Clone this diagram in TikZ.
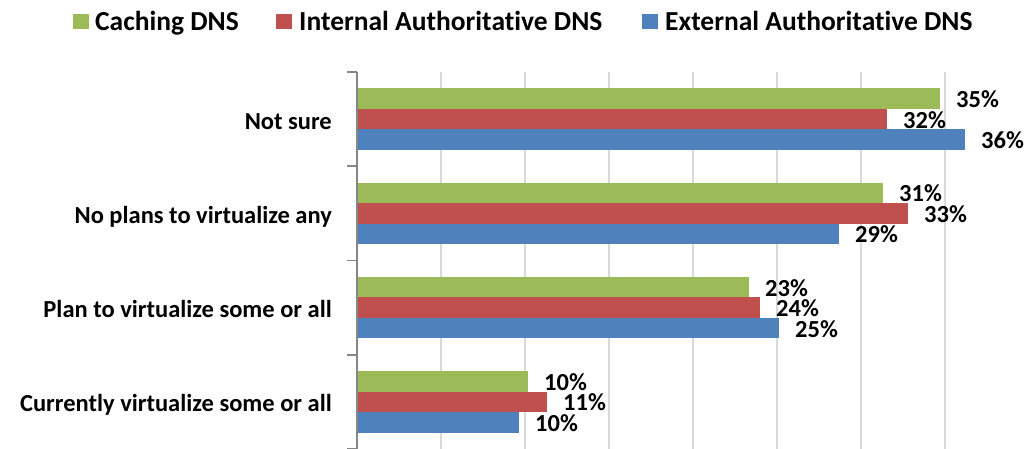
\documentclass[tikz,border=0pt]{standalone}
\usepackage{fontspec}
\setmainfont{Carlito}[Ligatures=NoCommon]
\definecolor{cgreen}{HTML}{9BBB59}
\definecolor{cred}{HTML}{C0504D}
\definecolor{cblue}{HTML}{4F81BD}
\definecolor{gridc}{HTML}{D9D9D9}
\definecolor{axisc}{HTML}{868686}
\begin{document}
\begin{tikzpicture}[x=1pt,y=-1pt,
  gridline/.style={draw=gridc,line width=1.5pt},
  axisline/.style={draw=axisc,line width=1.5pt},
  pct/.style={anchor=base west,inner sep=0pt,font=\fontsize{24.5}{24.5}\selectfont\bfseries},
  catlabel/.style={anchor=base east,inner sep=0pt,font=\fontsize{24.5}{24.5}\selectfont\bfseries},
  legtext/.style={anchor=base west,inner sep=0pt,font=\fontsize{27.5}{27.5}\selectfont\bfseries}]
\useasboundingbox (0,0) rectangle (1025,449);
% gridlines
\foreach \k in {1,...,7}
  \draw[gridline] ({357+84*\k},72) -- ({357+84*\k},449);
% bars: center y / green end / red end / blue end / labels
\foreach \i/\c/\g/\r/\b/\lg/\lr/\lb/\name in {
   0/119.1/940/887/965/35/32/36/ns,
   1/213.4/883/908/839/31/33/29/np,
   2/307.6/749/760/779/23/24/25/pl,
   3/401.9/528/547/519/10/11/10/cu}{
  \fill[cgreen] (357,{\c-30.75}) rectangle (\g,{\c-10.25});
  \fill[cred]   (357,{\c-10.25}) rectangle (\r,{\c+10.25});
  \fill[cblue]  (357,{\c+10.25}) rectangle (\b,{\c+30.75});
  \node[pct] (\name g) at ({\g+16},{\c-20.5+9}) {\lg\%};
  \node[pct] (\name r) at ({\r+16},{\c+9}) {\lr\%};
  \node[pct] (\name b) at ({\b+16},{\c+20.5+9}) {\lb\%};
}
% axis and ticks
\draw[axisline] (357,72) -- (357,449);
\foreach \k in {0,...,4}
  \draw[axisline] (347,{72+94.25*\k}) -- (357,{72+94.25*\k});
% category labels
\node[catlabel] (cns) at (332,129.1) {Not sure};
\node[catlabel] (cnp) at (332,223.4) {No plans to virtualize any};
\node[catlabel] (cpl) at (332,317.6) {Plan to virtualize some or all};
\node[catlabel] (ccu) at (332,411.9) {Currently virtualize some or all};
% legend
\fill[cgreen] (73,14) rectangle (89,29.5);
\node[legtext] (l1) at (95,31) {Caching DNS};
\fill[cred] (276,14) rectangle (292,29.5);
\node[legtext] (l2) at (299,31) {Internal Authoritative DNS};
\fill[cblue] (642,14) rectangle (657.5,29.5);
\node[legtext] (l3) at (665,31) {External Authoritative DNS};
\end{tikzpicture}
\end{document}
